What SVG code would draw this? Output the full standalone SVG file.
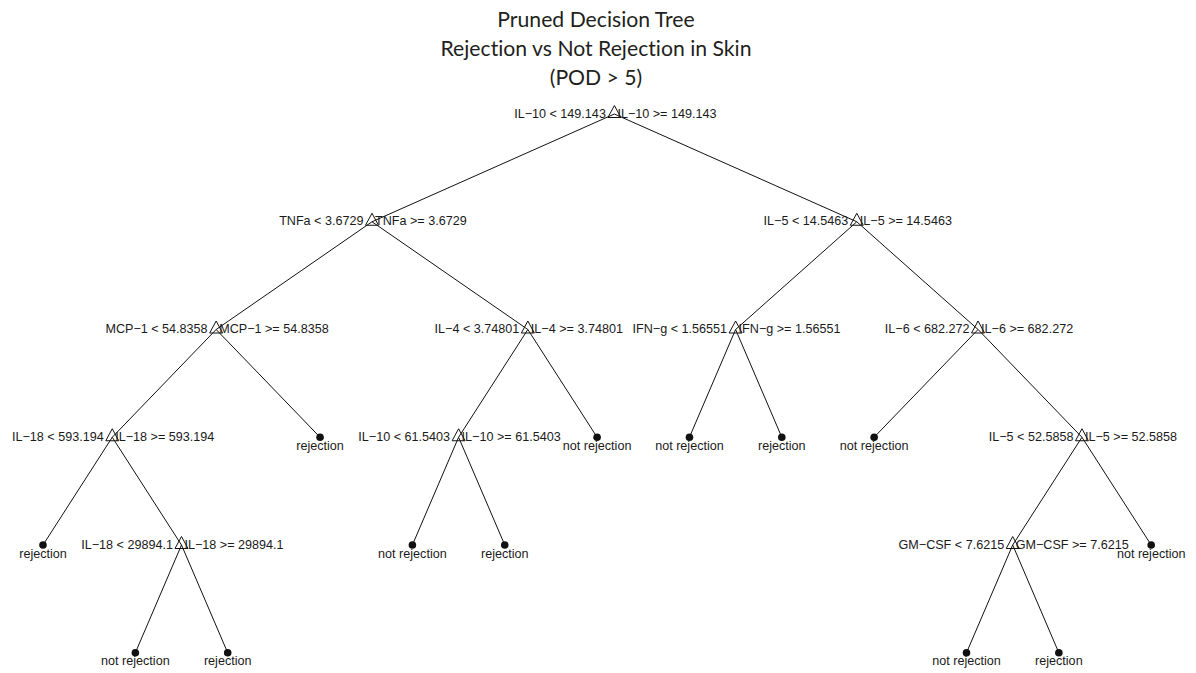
<svg xmlns="http://www.w3.org/2000/svg" xmlns:xlink="http://www.w3.org/1999/xlink" width="1196" height="673" viewBox="0 0 1196 673">
  <style>
    .title { font-family: Lato, "Open Sans", "Liberation Sans", sans-serif; font-size: 21.2px; fill: #231f20; text-anchor: middle; font-variant-ligatures: none; font-feature-settings: "liga" 0, "dlig" 0; }
    .lbl { font-family: "Liberation Sans", Arial, sans-serif; font-size: 12.6px; fill: #1a1a1a; }
    .lt { text-anchor: end; }
    .rt { text-anchor: start; }
    .leaf text { text-anchor: middle; }
    .edge { stroke: #111; stroke-width: 1; fill: none; }
    .split { stroke: #111; stroke-width: 1; fill: none; }
    .dot { fill: #111; }
  </style>
  <defs>
    <!-- open triangle marking a split node; origin at the branch junction -->
    <path id="tri" class="split" d="M0,-8.5 L6.5,3.5 L-6.5,3.5 Z"/>
  </defs>

  <rect width="1196" height="673" fill="#ffffff"/>

  <g id="title">
    <text class="title" x="596" y="27">Pruned Decision Tree</text>
    <text class="title" x="596" y="56">Rejection vs Not Rejection in Skin</text>
    <text class="title" x="596" y="85">(POD &gt; 5)</text>
  </g>

  <g id="connectors" class="edge">
    <line x1="614.4" y1="114" x2="372" y2="221.75"/>
    <line x1="614.4" y1="114" x2="856.8" y2="221.75"/>
    <line x1="372" y1="221.75" x2="216.15" y2="329.5"/>
    <line x1="372" y1="221.75" x2="527.85" y2="329.5"/>
    <line x1="856.8" y1="221.75" x2="735.6" y2="329.5"/>
    <line x1="856.8" y1="221.75" x2="978.05" y2="329.5"/>
    <line x1="216.15" y1="329.5" x2="112.25" y2="437.25"/>
    <line x1="216.15" y1="329.5" x2="320.05" y2="437.25"/>
    <line x1="527.85" y1="329.5" x2="458.6" y2="437.25"/>
    <line x1="527.85" y1="329.5" x2="597.1" y2="437.25"/>
    <line x1="735.6" y1="329.5" x2="689.45" y2="437.25"/>
    <line x1="735.6" y1="329.5" x2="781.8" y2="437.25"/>
    <line x1="978.05" y1="329.5" x2="874.15" y2="437.25"/>
    <line x1="978.05" y1="329.5" x2="1081.95" y2="437.25"/>
    <line x1="112.25" y1="437.25" x2="43" y2="545"/>
    <line x1="112.25" y1="437.25" x2="181.5" y2="545"/>
    <line x1="458.6" y1="437.25" x2="412.4" y2="545"/>
    <line x1="458.6" y1="437.25" x2="504.75" y2="545"/>
    <line x1="1081.95" y1="437.25" x2="1012.7" y2="545"/>
    <line x1="1081.95" y1="437.25" x2="1151.2" y2="545"/>
    <line x1="181.5" y1="545" x2="135.35" y2="652.75"/>
    <line x1="181.5" y1="545" x2="227.7" y2="652.75"/>
    <line x1="1012.7" y1="545" x2="966.5" y2="652.75"/>
    <line x1="1012.7" y1="545" x2="1058.85" y2="652.75"/>
  </g>

  <!-- split nodes -->
  <g id="node-root" class="lbl">
    <use xlink:href="#tri" x="614.4" y="114"/>
    <text class="lt" x="605.9" y="117.5">IL−10 &lt; 149.143</text>
    <text class="rt" x="617.4" y="117.5">IL−10 &gt;= 149.143</text>
  </g>
  <g id="node-tnfa" class="lbl">
    <use xlink:href="#tri" x="372" y="221.75"/>
    <text class="lt" x="363.5" y="225.25">TNFa &lt; 3.6729</text>
    <text class="rt" x="375" y="225.25">TNFa &gt;= 3.6729</text>
  </g>
  <g id="node-il5-a" class="lbl">
    <use xlink:href="#tri" x="856.8" y="221.75"/>
    <text class="lt" x="848.3" y="225.25">IL−5 &lt; 14.5463</text>
    <text class="rt" x="859.8" y="225.25">IL−5 &gt;= 14.5463</text>
  </g>
  <g id="node-mcp1" class="lbl">
    <use xlink:href="#tri" x="216.15" y="329.5"/>
    <text class="lt" x="207.65" y="333">MCP−1 &lt; 54.8358</text>
    <text class="rt" x="219.15" y="333">MCP−1 &gt;= 54.8358</text>
  </g>
  <g id="node-il4" class="lbl">
    <use xlink:href="#tri" x="527.85" y="329.5"/>
    <text class="lt" x="519.35" y="333">IL−4 &lt; 3.74801</text>
    <text class="rt" x="530.85" y="333">IL−4 &gt;= 3.74801</text>
  </g>
  <g id="node-ifng" class="lbl">
    <use xlink:href="#tri" x="735.6" y="329.5"/>
    <text class="lt" x="727.1" y="333">IFN−g &lt; 1.56551</text>
    <text class="rt" x="738.6" y="333">IFN−g &gt;= 1.56551</text>
  </g>
  <g id="node-il6" class="lbl">
    <use xlink:href="#tri" x="978.05" y="329.5"/>
    <text class="lt" x="969.55" y="333">IL−6 &lt; 682.272</text>
    <text class="rt" x="981.05" y="333">IL−6 &gt;= 682.272</text>
  </g>
  <g id="node-il18-a" class="lbl">
    <use xlink:href="#tri" x="112.25" y="437.25"/>
    <text class="lt" x="103.75" y="440.75">IL−18 &lt; 593.194</text>
    <text class="rt" x="115.25" y="440.75">IL−18 &gt;= 593.194</text>
  </g>
  <g id="node-il10-b" class="lbl">
    <use xlink:href="#tri" x="458.6" y="437.25"/>
    <text class="lt" x="450.1" y="440.75">IL−10 &lt; 61.5403</text>
    <text class="rt" x="461.6" y="440.75">IL−10 &gt;= 61.5403</text>
  </g>
  <g id="node-il5-b" class="lbl">
    <use xlink:href="#tri" x="1081.95" y="437.25"/>
    <text class="lt" x="1073.45" y="440.75">IL−5 &lt; 52.5858</text>
    <text class="rt" x="1084.95" y="440.75">IL−5 &gt;= 52.5858</text>
  </g>
  <g id="node-il18-b" class="lbl">
    <use xlink:href="#tri" x="181.5" y="545"/>
    <text class="lt" x="173" y="548.5">IL−18 &lt; 29894.1</text>
    <text class="rt" x="184.5" y="548.5">IL−18 &gt;= 29894.1</text>
  </g>
  <g id="node-gmcsf" class="lbl">
    <use xlink:href="#tri" x="1012.7" y="545"/>
    <text class="lt" x="1004.2" y="548.5">GM−CSF &lt; 7.6215</text>
    <text class="rt" x="1015.7" y="548.5">GM−CSF &gt;= 7.6215</text>
  </g>

  <!-- terminal nodes -->
  <g id="leaf-0" class="leaf lbl"><circle class="dot" cx="43" cy="545" r="3.8"/><text x="43" y="557.5">rejection</text></g>
  <g id="leaf-1" class="leaf lbl"><circle class="dot" cx="135.35" cy="652.75" r="3.8"/><text x="135.35" y="665.25">not rejection</text></g>
  <g id="leaf-2" class="leaf lbl"><circle class="dot" cx="227.7" cy="652.75" r="3.8"/><text x="227.7" y="665.25">rejection</text></g>
  <g id="leaf-3" class="leaf lbl"><circle class="dot" cx="320.05" cy="437.25" r="3.8"/><text x="320.05" y="449.75">rejection</text></g>
  <g id="leaf-4" class="leaf lbl"><circle class="dot" cx="412.4" cy="545" r="3.8"/><text x="412.4" y="557.5">not rejection</text></g>
  <g id="leaf-5" class="leaf lbl"><circle class="dot" cx="504.75" cy="545" r="3.8"/><text x="504.75" y="557.5">rejection</text></g>
  <g id="leaf-6" class="leaf lbl"><circle class="dot" cx="597.1" cy="437.25" r="3.8"/><text x="597.1" y="449.75">not rejection</text></g>
  <g id="leaf-7" class="leaf lbl"><circle class="dot" cx="689.45" cy="437.25" r="3.8"/><text x="689.45" y="449.75">not rejection</text></g>
  <g id="leaf-8" class="leaf lbl"><circle class="dot" cx="781.8" cy="437.25" r="3.8"/><text x="781.8" y="449.75">rejection</text></g>
  <g id="leaf-9" class="leaf lbl"><circle class="dot" cx="874.15" cy="437.25" r="3.8"/><text x="874.15" y="449.75">not rejection</text></g>
  <g id="leaf-10" class="leaf lbl"><circle class="dot" cx="966.5" cy="652.75" r="3.8"/><text x="966.5" y="665.25">not rejection</text></g>
  <g id="leaf-11" class="leaf lbl"><circle class="dot" cx="1058.85" cy="652.75" r="3.8"/><text x="1058.85" y="665.25">rejection</text></g>
  <g id="leaf-12" class="leaf lbl"><circle class="dot" cx="1151.2" cy="545" r="3.8"/><text x="1151.2" y="557.5">not rejection</text></g>
</svg>
